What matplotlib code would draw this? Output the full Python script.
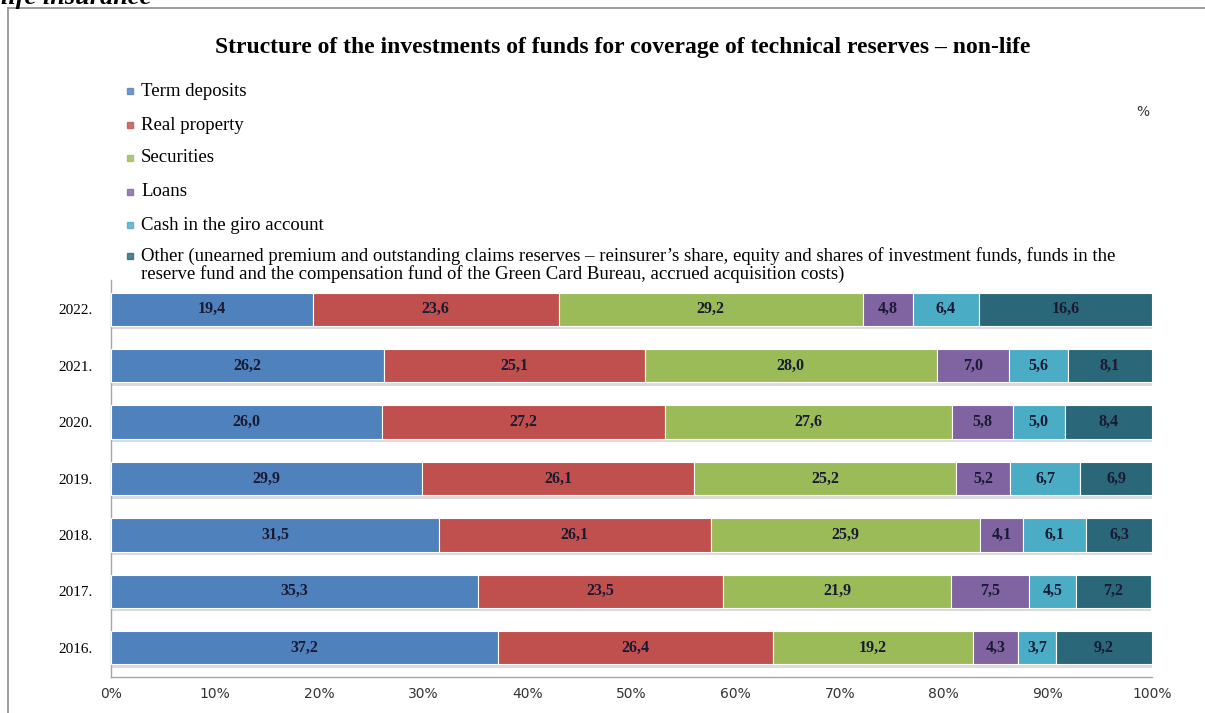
import numpy as np
import matplotlib.pyplot as plt
import matplotlib.patheffects as pe
from matplotlib.lines import Line2D

years = ["2016.", "2017.", "2018.", "2019.", "2020.", "2021.", "2022."]
categories = [
    "Term deposits",
    "Real property",
    "Securities",
    "Loans",
    "Cash in the giro account",
    "Other (unearned premium and outstanding claims reserves \u2013 reinsurer\u2019s share, equity and shares of investment funds, funds in the\nreserve fund and the compensation fund of the Green Card Bureau, accrued acquisition costs)",
]
term_deposits = [37.2, 35.3, 31.5, 29.9, 26.0, 26.2, 19.4]
real_property = [26.4, 23.5, 26.1, 26.1, 27.2, 25.1, 23.6]
securities = [19.2, 21.9, 25.9, 25.2, 27.6, 28.0, 29.2]
loans = [4.3, 7.5, 4.1, 5.2, 5.8, 7.0, 4.8]
cash_giro = [3.7, 4.5, 6.1, 6.7, 5.0, 5.6, 6.4]
other = [9.2, 7.2, 6.3, 6.9, 8.4, 8.1, 16.6]
x_ticks = [0, 10, 20, 30, 40, 50, 60, 70, 80, 90, 100]

series = [term_deposits, real_property, securities, loans, cash_giro, other]
colors = ["#4f81bd", "#c0504d", "#9bbb59", "#8064a2", "#4bacc6", "#2a6778"]

serif = ["Liberation Serif", "DejaVu Serif"]

fig = plt.figure(figsize=(12.05, 7.13), dpi=100)
W, H = 1205, 713

def fx(px):
    return px / W

def fy(py):
    return 1 - py / H

# page frame
fig.add_artist(Line2D([fx(8), 1], [fy(8), fy(8)], color="#8c8c8c", lw=1.2))
fig.add_artist(Line2D([fx(8), fx(8)], [fy(8), 0], color="#8c8c8c", lw=1.2))
fig.text(fx(1), fy(4), "life insurance", fontsize=19, fontweight="bold",
         fontstyle="italic", family=serif, va="baseline", ha="left")

fig.text(fx(623), fy(47), "Structure of the investments of funds for coverage of technical reserves \u2013 non-life",
         fontsize=17, fontweight="bold", family=serif, ha="center", va="center")
fig.text(fx(1143), fy(112), "%", fontsize=10, family="DejaVu Sans", ha="center", va="center", color="#333333")

# legend rows
legend_y = [91, 125, 158, 192, 225, 265]
for cat, c, py in zip(categories, colors, legend_y):
    mark_y = py if "\n" not in cat else 256
    fig.add_artist(Line2D([fx(130)], [fy(mark_y)], marker="s", markersize=5,
                          color=c, alpha=0.8, linestyle="none"))
    fig.text(fx(141), fy(py), cat, fontsize=13.5, family=serif, ha="left",
             va="center", linespacing=0.95)

ax = fig.add_axes([fx(111), fy(677), fx(1152) - fx(111), fy(280) - fy(677)])
y = np.arange(len(years))
left = np.zeros(len(years))
for vals, c in zip(series, colors):
    vals = np.array(vals)
    bars = ax.barh(y, vals, left=left, height=0.59, color=c, edgecolor="white",
                   linewidth=0.8, zorder=3)
    for b in bars:
        b.set_path_effects([pe.SimplePatchShadow(offset=(0, -2.5), shadow_rgbFace="#b0b0b0", alpha=0.45),
                            pe.Normal()])
    for yi, l, v in zip(y, left, vals):
        ax.text(l + v / 2, yi, f"{v:.1f}".replace(".", ","), ha="center", va="center",
                fontsize=11.5, fontweight="bold", family=serif, color="#1a1a33", zorder=4)
    left += vals

ax.set_xlim(0, 100)
ax.set_ylim(-0.52, 6.52)
ax.set_yticks(y)
ax.set_yticklabels(years, family=serif, fontsize=11)
ax.set_xticks(x_ticks)
ax.set_xticklabels([f"{t}%" for t in x_ticks], family="DejaVu Sans", fontsize=10, color="#333333")
ax.tick_params(axis="x", length=0, pad=7)
ax.tick_params(axis="y", length=0, pad=13)
for s in ["top", "right"]:
    ax.spines[s].set_visible(False)
for s in ["left", "bottom"]:
    ax.spines[s].set_color("#a6a6a6")
    ax.spines[s].set_linewidth(1.0)

fig.savefig("out.png", dpi=100)
